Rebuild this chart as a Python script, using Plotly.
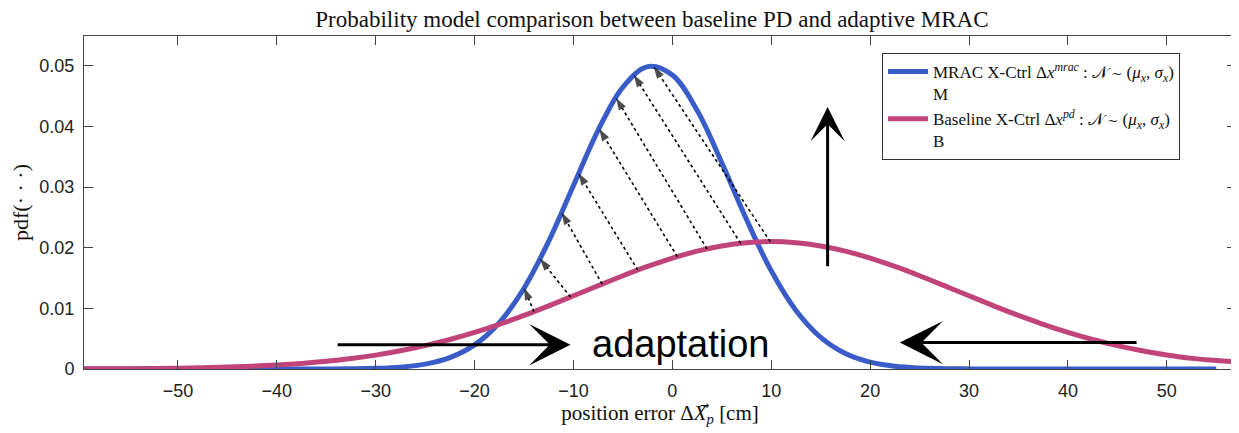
import plotly.graph_objects as go

# ---------------- data ----------------
x_err = [-60, -57.5, -55, -52.5, -50, -47.5, -45, -42.5, -40, -37.5, -35, -32.5,
         -30, -27.5, -25, -22.5, -20, -17.5, -15, -12.5, -10, -7.5, -5, -2.5,
         0, 2.5, 5, 7.5, 10, 12.5, 15, 17.5, 20, 22.5, 25, 27.5, 30, 32.5, 35,
         37.5, 40, 42.5, 45, 47.5, 50, 52.5, 55, 57.5]

pdf_mrac = [0, 0, 0, 0, 0, 0, 0, 0, 0, 0,
            0.00001, 0.000035, 0.00011, 0.00031, 0.0008, 0.00187, 0.00397,
            0.00763, 0.01332, 0.02108, 0.03025, 0.03938, 0.04648, 0.04985,
            0.04845, 0.04265, 0.03401, 0.02464, 0.01619, 0.00965, 0.00522,
            0.00256, 0.00114, 0.00046, 0.00017, 0.000056, 0.000017,
            0, 0, 0, 0, 0, 0, 0, 0, 0, 0]

pdf_pd = [0.000024, 0.000038, 0.00006, 0.000094, 0.000143, 0.000216, 0.000318,
          0.000462, 0.000658, 0.000923, 0.001271, 0.001721, 0.00229, 0.002995,
          0.003849, 0.004864, 0.006038, 0.007369, 0.008837, 0.010416, 0.012069,
          0.01374, 0.015378, 0.016913, 0.018285, 0.019427, 0.020286, 0.020819,
          0.021, 0.020819, 0.020286, 0.019427, 0.018285, 0.016913, 0.015378,
          0.01374, 0.012069, 0.010416, 0.008837, 0.007369, 0.006038, 0.004864,
          0.003849, 0.003, 0.0023, 0.00175, 0.0014, 0.0011]

# dotted "adaptation" arrows: tail on baseline curve, head on MRAC curve
dot_tail_x = [-14.0, -10.3, -7.1, -3.5, 0.5, 3.5, 6.9, 9.9]
dot_tail_y = [0.00946, 0.01187, 0.0140, 0.01631, 0.01853, 0.01981, 0.02072, 0.0210]
dot_head_x = [-15.0, -13.4, -11.2, -9.5, -7.4, -5.7, -3.9, -1.9]
dot_head_y = [0.0134, 0.0182, 0.0258, 0.0323, 0.0396, 0.0447, 0.0485, 0.0499]

# big black arrows (tail -> tip)
big_tail_x = [-34.0, 47.1, 15.7]
big_tail_y = [0.0040, 0.00435, 0.0167]
big_tip_x = [-10.3, 23.0, 15.7]
big_tip_y = [0.0040, 0.00435, 0.0432]
big_head_size = [2.3, 2.4, 1.9]

label_text = "adaptation"
label_x = 0.9
label_y = 0.0042

x_ticks = [-50, -40, -30, -20, -10, 0, 10, 20, 30, 40, 50]
y_ticks = [0, 0.01, 0.02, 0.03, 0.04, 0.05]
y_tick_text = ["0", "0.01", "0.02", "0.03", "0.04", "0.05"]

name_mrac = "MRAC X-Ctrl Δ<i>x</i><sup><i>mrac</i></sup> : 𝒩 ∼ (<i>μ</i><sub><i>x</i></sub>, <i>σ</i><sub><i>x</i></sub>)<br>M"
name_pd = "Baseline X-Ctrl Δ<i>x</i><sup><i>pd</i></sup> : 𝒩 ∼ (<i>μ</i><sub><i>x</i></sub>, <i>σ</i><sub><i>x</i></sub>)<br>B"

x_title = "position error Δ<i>X</i><sub><i>p</i></sub> [cm]"

BLUE = "#3a5cc8"
RED = "#c0447a"
SERIF = "Liberation Serif"
SANS = "Liberation Sans"

# page body adds an 8px offset; figure is sized so it fills the 1239x433 window
FIG_W, FIG_H = 1231, 425

fig = go.Figure()

fig.add_trace(go.Scatter(x=x_err, y=pdf_mrac, mode="lines", name=name_mrac,
                         line=dict(color=BLUE, width=5, shape="spline", smoothing=1.0)))
fig.add_trace(go.Scatter(x=x_err, y=pdf_pd, mode="lines", name=name_pd,
                         line=dict(color=RED, width=5, shape="spline", smoothing=1.0)))

for xt, yt, xh, yh in zip(dot_tail_x, dot_tail_y, dot_head_x, dot_head_y):
    fig.add_trace(go.Scatter(
        x=[xt, xh], y=[yt, yh], mode="lines+markers", showlegend=False,
        hoverinfo="skip",
        line=dict(color="black", width=1.6, dash="dot"),
        marker=dict(symbol="arrow", size=[0, 13], angleref="previous",
                    color="black", line=dict(width=0)),
    ))

for xt, yt, xh, yh, hs in zip(big_tail_x, big_tail_y, big_tip_x, big_tip_y, big_head_size):
    fig.add_annotation(x=xh, y=yh, ax=xt, ay=yt, xref="x", yref="y",
                       axref="x", ayref="y", text="", showarrow=True,
                       arrowhead=3, arrowsize=hs, arrowwidth=3, arrowcolor="black")

fig.add_annotation(x=label_x, y=label_y, xref="x", yref="y", text=label_text,
                   showarrow=False, font=dict(family=SANS, size=38, color="black"),
                   xanchor="center", yanchor="middle")

# vector arrow over the X of the x-axis title
fig.add_annotation(x=0.5, y=0, xref="paper", yref="paper", text="→",
                   showarrow=False, xshift=44, yshift=-36,
                   font=dict(family="DejaVu Sans", size=11, color="#111111"),
                   xanchor="center", yanchor="middle")

axis_common = dict(showline=True, linecolor="#444444", linewidth=1, mirror="ticks",
                   ticks="inside", ticklen=9, tickcolor="#444444", tickwidth=1,
                   showgrid=False, zeroline=False, automargin=False,
                   tickfont=dict(family=SANS, size=18, color="#222222"))

fig.update_layout(
    width=FIG_W, height=FIG_H,
    margin=dict(l=76, r=3, t=28, b=64, autoexpand=False),
    paper_bgcolor="white", plot_bgcolor="white",
    title=dict(text="Probability model comparison between baseline PD and adaptive MRAC",
               font=dict(family=SERIF, size=23, color="#111111"),
               x=0.493, xref="paper", xanchor="center",
               y=1 - 11 / FIG_H, yref="container", yanchor="middle"),
    xaxis=dict(range=[-59.5, 57], tickvals=x_ticks,
               title=dict(text=x_title,
                          font=dict(family=SERIF, size=21, color="#111111"), standoff=4),
               ticklabelstandoff=5,
               **axis_common),
    yaxis=dict(range=[0, 0.0549], tickvals=y_ticks, ticktext=y_tick_text,
               title=dict(text="pdf(· · ·)",
                          font=dict(family=SERIF, size=22, color="#111111"), standoff=4),
               ticklabelstandoff=5,
               **axis_common),
    legend=dict(x=0.6927, y=0.949, xanchor="left", yanchor="top",
                bgcolor="white", bordercolor="#333333", borderwidth=1,
                font=dict(family=SERIF, size=17, color="#111111"),
                valign="top", tracegroupgap=0, itemwidth=40),
    showlegend=True,
)

fig.write_html("out.html")
